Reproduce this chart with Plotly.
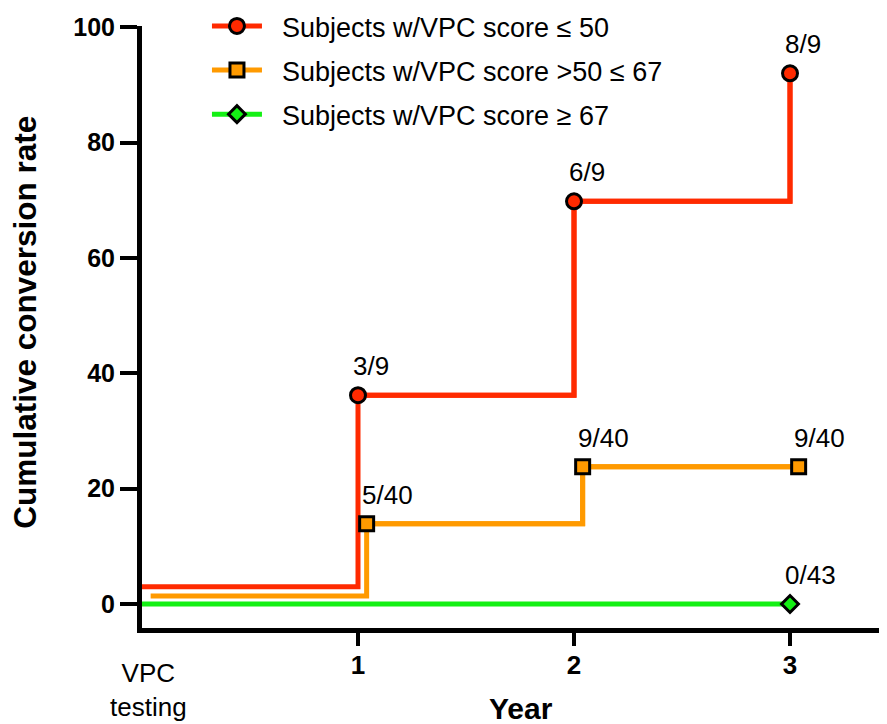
import plotly.graph_objects as go

# ---------------- data ----------------
series_names = [
    "Subjects w/VPC score ≤ 50",
    "Subjects w/VPC score >50 ≤ 67",
    "Subjects w/VPC score ≥ 67",
]

years_red = [0, 1, 2, 3]
rate_red = [3.0, 36.2, 69.8, 92.0]
labels_red = ["3/9", "6/9", "8/9"]

years_orange = [0.04, 1.04, 2.04, 3.04]
rate_orange = [1.4, 13.9, 23.8, 23.8]
labels_orange = ["5/40", "9/40", "9/40"]

years_green = [0, 3]
rate_green = [0.0, 0.0]
labels_green = ["0/43"]

y_tick_vals = [0, 20, 40, 60, 80, 100]
x_tick_vals = [1, 2, 3]
x_tick_text = ["1", "2", "3"]
baseline_label = "VPC<br>testing"

# ---------------- style ----------------
FONT = "Liberation Sans, Arial, Helvetica, sans-serif"
RED = "#FF2A00"
ORANGE = "#FF9A00"
GREEN = "#14F014"
GAP = "\u00a0\u00a0"

series = [
    (series_names[0], years_red, rate_red, labels_red, RED, "circle", 15),
    (series_names[1], years_orange, rate_orange, labels_orange, ORANGE, "square", 14),
    (series_names[2], years_green, rate_green, labels_green, GREEN, "diamond", 13),
]

fig = go.Figure()
annotations = []
for i, (name, xs, ys, labs, color, symbol, msize) in enumerate(series):
    grp = f"g{i}"
    # full step path (including the offset start segment)
    fig.add_trace(go.Scatter(
        x=xs, y=ys, mode="lines", line=dict(color=color, width=5, shape="hv"),
        showlegend=False, legendgroup=grp, hoverinfo="skip",
    ))
    # event points with markers (legend entry)
    fig.add_trace(go.Scatter(
        x=xs[1:], y=ys[1:], mode="lines+markers", name=GAP + name, legendgroup=grp,
        line=dict(color=color, width=5, shape="hv"),
        marker=dict(symbol=symbol, size=msize, color=color,
                    line=dict(color="black", width=3)),
    ))
    for xv, yv, t in zip(xs[1:], ys[1:], labs):
        annotations.append(dict(
            x=xv, y=yv, xref="x", yref="y", text=t, showarrow=False,
            xanchor="left", yanchor="bottom", xshift=-7, yshift=12,
            font=dict(family=FONT, size=26, color="black"),
        ))

annotations += [
    dict(text="Cumulative conversion rate", xref="paper", yref="paper",
         x=-0.157, y=0.507, xanchor="center", yanchor="middle", textangle=-90,
         showarrow=False, font=dict(family=FONT, size=31.5, color="black", weight="bold")),
    dict(text="Year", xref="paper", yref="paper", x=0.509, y=-0.134,
         xanchor="center", yanchor="middle", showarrow=False,
         font=dict(family=FONT, size=30, color="black", weight="bold")),
    dict(text=baseline_label, xref="x", yref="paper", x=0.03, y=-0.0465,
         xanchor="center", yanchor="top", showarrow=False,
         font=dict(family=FONT, size=26, color="black")),
]

fig.update_layout(
    width=887, height=724,
    margin=dict(l=134, r=8, t=18, b=104, autoexpand=False),
    paper_bgcolor="white", plot_bgcolor="white",
    font=dict(family=FONT, color="black"),
    showlegend=True,
    legend=dict(
        x=0.0872, y=1.040, xanchor="left", yanchor="top",
        font=dict(family=FONT, size=27, color="black"),
        bgcolor="rgba(0,0,0,0)", tracegroupgap=6, itemwidth=50,
    ),
    annotations=annotations,
    xaxis=dict(
        range=[0, 3.449], showline=True, linecolor="black", linewidth=5,
        ticks="outside", ticklen=13, tickwidth=4, tickcolor="black",
        tickvals=x_tick_vals, ticktext=x_tick_text, ticklabelstandoff=-3,
        tickfont=dict(family=FONT, size=26, color="black", weight="bold"),
        showgrid=False, zeroline=False,
    ),
    yaxis=dict(
        range=[-4.16, 100.2], showline=True, linecolor="black", linewidth=5,
        ticks="outside", ticklen=17, tickwidth=4, tickcolor="black",
        tickvals=y_tick_vals,
        tickfont=dict(family=FONT, size=25, color="black", weight="bold"),
        showgrid=False, zeroline=False,
    ),
)

fig.write_html("out.html")
